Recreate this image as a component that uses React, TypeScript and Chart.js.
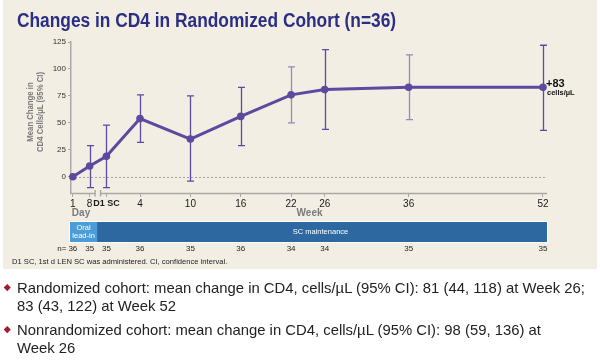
import React, { useEffect, useRef } from 'react';
import { Chart, registerables } from 'chart.js';

Chart.register(...registerables);

// ---- data ----
const xLabels = ['1', '8', 'D1 SC', '4', '10', '16', '22', '26', '36', '52'];
const xWeeks = [-4, -2, 0, 4, 10, 16, 22, 26, 36, 52]; // position on the week axis (lead-in days before D1 SC)
const meanChange = [0, 10, 19, 54, 35, 56, 76, 81, 83, 83];
const ciLow: (number | null)[] = [null, -10, -10, 32, -4, 29, 50, 44, 53, 43];
const ciHigh: (number | null)[] = [null, 29, 48, 76, 75, 83, 102, 118, 113, 122];
const nValues = [36, 35, 35, 36, 35, 36, 34, 34, 35, 35];
const yTicks = [0, 25, 50, 75, 100, 125];
const ciShade = ['d', 'd', 'd', 'd', 'd', 'd', 'l', 'd', 'l', 'd'];
const finalLabel = '+83';
const finalUnit = 'cells/µL';
const bullets = [
  ['Randomized cohort: mean change in CD4, cells/µL (95% CI): 81 (44, 118) at Week 26;', '83 (43, 122) at Week 52'],
  ['Nonrandomized cohort: mean change in CD4, cells/µL (95% CI): 98 (59, 136) at', 'Week 26'],
];

const PURPLE = '#5b4a9e';
const PURPLE_LIGHT = '#9388c2';
const AXIS = '#a9a9a9';
const FONT = '"Liberation Sans", Arial, Helvetica, sans-serif';

export default function App() {
  const canvasRef = useRef<HTMLCanvasElement | null>(null);

  useEffect(() => {
    const canvas = canvasRef.current;
    if (!canvas) return;

    const overlay = {
      id: 'overlay',
      beforeDatasetsDraw(chart: any) {
        const { ctx, chartArea, scales } = chart;
        const x = scales.x;
        const y = scales.y;
        ctx.save();
        // dotted zero line
        const y0 = Math.round(y.getPixelForValue(0)) + 0.5;
        ctx.strokeStyle = '#a4a4a4';
        ctx.lineWidth = 1;
        ctx.setLineDash([2, 2]);
        ctx.beginPath();
        ctx.moveTo(chartArea.left, y0);
        ctx.lineTo(chartArea.right, y0);
        ctx.stroke();
        ctx.setLineDash([]);
        // error bars
        xWeeks.forEach((xv, i) => {
          const lo = ciLow[i];
          const hi = ciHigh[i];
          if (lo == null || hi == null) return;
          const px = Math.round(x.getPixelForValue(xv)) + 0.5;
          const pl = y.getPixelForValue(lo);
          const ph = y.getPixelForValue(hi);
          ctx.strokeStyle = ciShade[i] === 'l' ? PURPLE_LIGHT : PURPLE;
          ctx.lineWidth = 1.3;
          ctx.beginPath();
          ctx.moveTo(px, pl);
          ctx.lineTo(px, ph);
          ctx.moveTo(px - 3.5, pl);
          ctx.lineTo(px + 3.5, pl);
          ctx.moveTo(px - 3.5, ph);
          ctx.lineTo(px + 3.5, ph);
          ctx.stroke();
        });
        ctx.restore();
      },
      afterDraw(chart: any) {
        const { ctx, chartArea, scales } = chart;
        const x = scales.x;
        const y = scales.y;
        ctx.save();
        // x axis line with break
        const yb = chartArea.bottom + 0.5;
        const b1 = x.getPixelForValue(-1.35);
        const b2 = x.getPixelForValue(-0.7);
        ctx.strokeStyle = AXIS;
        ctx.lineWidth = 1.5;
        ctx.beginPath();
        ctx.moveTo(chartArea.left - 1, yb);
        ctx.lineTo(b1, yb);
        ctx.moveTo(b2, yb);
        ctx.lineTo(chartArea.right, yb);
        ctx.moveTo(b1, yb - 3.5);
        ctx.lineTo(b1, yb + 3);
        ctx.moveTo(b2, yb - 3.5);
        ctx.lineTo(b2, yb + 3);
        ctx.stroke();

        // final value label
        const last = xWeeks.length - 1;
        const lx = x.getPixelForValue(xWeeks[last]) + 3;
        const ly = y.getPixelForValue(meanChange[last]);
        ctx.fillStyle = '#111';
        ctx.textAlign = 'left';
        ctx.textBaseline = 'alphabetic';
        ctx.font = `bold 11px ${FONT}`;
        ctx.fillText(finalLabel, lx, ly);
        ctx.font = `bold 7.5px ${FONT}`;
        ctx.fillText(finalUnit, lx + 1, ly + 8);

        // Day / Week labels
        ctx.fillStyle = '#7a7a7a';
        ctx.font = `bold 10px ${FONT}`;
        ctx.textBaseline = 'middle';
        ctx.textAlign = 'left';
        ctx.fillText('Day', x.getPixelForValue(xWeeks[0]) - 1, 213);
        ctx.textAlign = 'center';
        ctx.fillText('Week', x.getPixelForValue(24.2), 213);

        // dosing bar
        const barTop = 222;
        const barH = 20;
        const left = chartArea.left - 1;
        const split = x.getPixelForValue(-1.1);
        ctx.fillStyle = '#2d69a0';
        ctx.fillRect(left, barTop, chartArea.right - left, barH);
        ctx.fillStyle = '#4c9cd8';
        ctx.fillRect(left, barTop, split - left, barH);
        ctx.strokeStyle = 'rgba(255,255,255,0.8)';
        ctx.lineWidth = 1;
        ctx.strokeRect(left - 0.5, barTop - 0.5, chartArea.right - left + 1, barH + 1);
        ctx.fillStyle = '#ffffff';
        ctx.font = `7.5px ${FONT}`;
        ctx.textAlign = 'center';
        ctx.fillText('Oral', (left + split) / 2, barTop + 6);
        ctx.fillText('lead-in', (left + split) / 2, barTop + 14);
        ctx.fillText('SC maintenance', x.getPixelForValue(25.5), barTop + 10);

        // n row
        ctx.fillStyle = '#222';
        ctx.font = `8px ${FONT}`;
        xWeeks.forEach((xv, i) => {
          ctx.textAlign = 'center';
          ctx.fillText(String(nValues[i]), x.getPixelForValue(xv), 248.5);
        });
        ctx.textAlign = 'right';
        ctx.fillText('n=', x.getPixelForValue(xWeeks[0]) - 6.5, 248.5);
        ctx.restore();
      },
    };

    const chart = new Chart(canvas, {
      type: 'line',
      data: {
        datasets: [
          {
            data: xWeeks.map((xv, i) => ({ x: xv, y: meanChange[i] })),
            borderColor: PURPLE,
            backgroundColor: PURPLE,
            borderWidth: 3,
            pointRadius: 3.8,
            pointBackgroundColor: PURPLE,
            pointBorderColor: PURPLE,
            pointBorderWidth: 0,
            tension: 0,
            clip: false,
          } as any,
        ],
      },
      options: {
        animation: false,
        responsive: false,
        devicePixelRatio: 1,
        layout: { padding: { top: 42, right: 53, left: 0, bottom: 0 } },
        plugins: { legend: { display: false }, tooltip: { enabled: false } },
        scales: {
          x: {
            type: 'linear',
            min: -4.22,
            max: 52.48,
            afterBuildTicks: (s: any) => {
              s.ticks = xWeeks.map((v) => ({ value: v }));
            },
            afterFit: (s: any) => {
              s.height = 79;
            },
            ticks: {
              autoSkip: false,
              maxRotation: 0,
              padding: 1,
              color: '#1a1a1a',
              font: (c: any) =>
                c.index === 2
                  ? { family: FONT, size: 9, weight: 'bold' }
                  : { family: FONT, size: 10 },
              callback: (_v: any, i: number) => xLabels[i],
            },
            grid: { drawOnChartArea: false, drawTicks: true, tickLength: 4, color: AXIS, lineWidth: 1 },
            border: { display: false },
          },
          y: {
            type: 'linear',
            min: -15,
            max: 125,
            afterBuildTicks: (s: any) => {
              s.ticks = yTicks.map((v) => ({ value: v }));
            },
            afterFit: (s: any) => {
              s.width = 71;
            },
            ticks: { color: '#333', font: { family: FONT, size: 8 }, padding: 2 },
            grid: { drawOnChartArea: false, drawTicks: true, tickLength: 3, color: AXIS, lineWidth: 1 },
            border: { display: true, color: AXIS, width: 1.5 },
          },
        },
      } as any,
      plugins: [overlay],
    });
    return () => chart.destroy();
  }, []);

  return (
    <div
      style={{
        position: 'absolute',
        left: 0,
        top: 0,
        width: 600,
        height: 360,
        background: '#ffffff',
        overflow: 'hidden',
        fontFamily: FONT,
      }}
    >
      <div
        style={{ position: 'absolute', left: 3, top: 0, width: 594, height: 269, background: '#f3eee3' }}
      />
      <canvas
        ref={canvasRef}
        width={600}
        height={272}
        style={{ position: 'absolute', left: 0, top: 0, width: 600, height: 272 }}
      />
      <div
        style={{
          position: 'absolute',
          left: 17,
          top: 10,
          fontSize: 20,
          lineHeight: '20px',
          fontWeight: 'bold',
          color: '#2b2f84',
          whiteSpace: 'nowrap',
          transform: 'scaleX(0.867)',
          transformOrigin: 'left top',
        }}
      >
        Changes in CD4 in Randomized Cohort (n=36)
      </div>
      <div
        style={{
          position: 'absolute',
          left: 35,
          top: 112,
          transform: 'translate(-50%, -50%) rotate(-90deg) scaleX(0.9)',
          fontSize: 8.6,
          lineHeight: '10px',
          fontWeight: 'bold',
          color: '#7a7a7a',
          textAlign: 'center',
          whiteSpace: 'nowrap',
        }}
      >
        Mean Change in
        <br />
        CD4 Cells/µL (95% CI)
      </div>
      <div
        style={{
          position: 'absolute',
          left: 12,
          top: 257,
          fontSize: 7.6,
          lineHeight: '10px',
          color: '#222',
          whiteSpace: 'nowrap',
        }}
      >
        D1 SC, 1st d LEN SC was administered. CI, confidence interval.
      </div>
      {bullets.map((lines, i) => (
        <div key={i} style={{ position: 'absolute', left: 0, top: 279 + i * 42, width: 600 }}>
          <div
            style={{
              position: 'absolute',
              left: 5,
              top: 6,
              width: 4.5,
              height: 4.5,
              background: '#a3192d',
              transform: 'rotate(45deg)',
            }}
          />
          <div
            style={{
              position: 'absolute',
              left: 17,
              top: 0,
              fontSize: 15,
              lineHeight: '18px',
              color: '#222',
              whiteSpace: 'nowrap',
              transform: 'scaleX(0.99)',
              transformOrigin: 'left top',
            }}
          >
            {lines[0]}
            <br />
            {lines[1]}
          </div>
        </div>
      ))}
    </div>
  );
}
